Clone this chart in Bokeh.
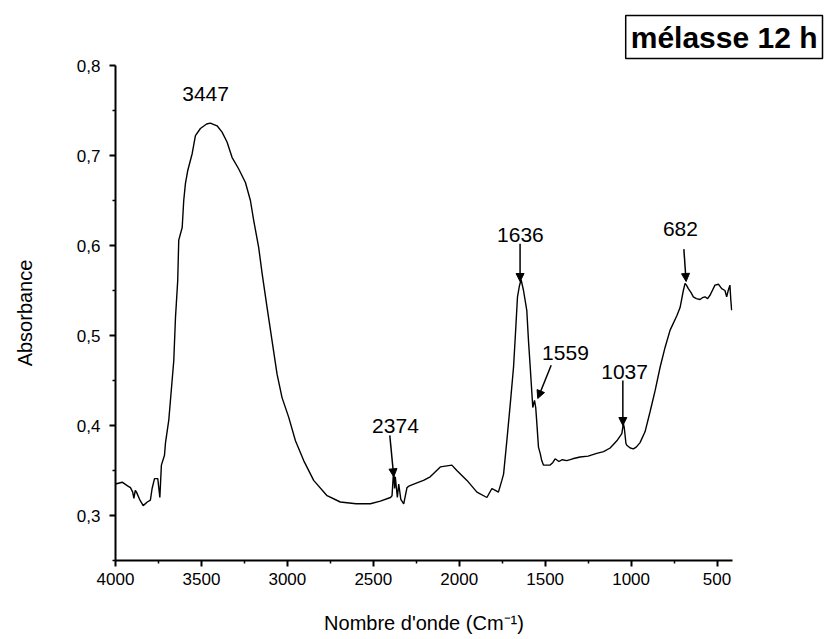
from bokeh.plotting import figure
from bokeh.models import (Range1d, FixedTicker, ColumnDataSource, Title, Arrow,
                          NormalHead)
from bokeh.core.properties import value
from bokeh.embed import file_html
from bokeh.resources import INLINE

# ---- spectrum data (wavenumber cm-1, absorbance) ----
wavenumber = [4000, 3961, 3930, 3913, 3900, 3893, 3885, 3878, 3860, 3839, 3815,
              3797, 3787, 3773, 3754, 3742, 3733, 3715, 3709, 3690, 3675, 3661,
              3651, 3638, 3632, 3612, 3603, 3593, 3580, 3554, 3535, 3506, 3470,
              3448, 3409, 3380, 3351, 3322, 3283, 3244, 3215, 3196, 3167, 3147,
              3118, 3089, 3060, 3031, 2992, 2953, 2905, 2847, 2769, 2692, 2600,
              2517, 2459, 2400, 2391, 2382, 2376, 2372, 2360, 2352, 2340, 2323,
              2304, 2290, 2250, 2208, 2169, 2110, 2043, 2014, 1955, 1897, 1839,
              1810, 1790, 1772, 1752, 1742, 1723, 1703, 1684, 1674, 1661, 1650,
              1640, 1626, 1607, 1597, 1587, 1572, 1562, 1555, 1549, 1539, 1529,
              1520, 1510, 1500, 1471, 1455, 1442, 1420, 1400, 1374, 1340, 1297,
              1250, 1200, 1160, 1122, 1083, 1054, 1045, 1040, 1030, 1025, 1005,
              987, 970, 948, 919, 890, 860, 831, 802, 773, 734, 715, 696, 686,
              678, 667, 652, 638, 620, 599, 585, 570, 555, 540, 512, 492, 473,
              454, 444, 435, 425, 420, 415]
absorbance = [0.335, 0.337, 0.333, 0.331, 0.326, 0.319, 0.328, 0.326, 0.318, 0.311, 0.315,
              0.317, 0.330, 0.341, 0.341, 0.320, 0.356, 0.367, 0.381, 0.406, 0.440, 0.472,
              0.520, 0.561, 0.606, 0.620, 0.650, 0.669, 0.683, 0.702, 0.722, 0.730, 0.735,
              0.736, 0.733, 0.726, 0.715, 0.698, 0.685, 0.670, 0.650, 0.628, 0.598, 0.569,
              0.531, 0.494, 0.457, 0.431, 0.409, 0.383, 0.361, 0.339, 0.322, 0.315, 0.313,
              0.313, 0.316, 0.320, 0.322, 0.350, 0.330, 0.343, 0.320, 0.335, 0.318, 0.313,
              0.331, 0.333, 0.336, 0.339, 0.343, 0.354, 0.356, 0.350, 0.339, 0.326, 0.320,
              0.330, 0.328, 0.326, 0.339, 0.346, 0.383, 0.424, 0.465, 0.498, 0.543, 0.555,
              0.562, 0.550, 0.528, 0.494, 0.465, 0.420, 0.428, 0.420, 0.404, 0.376, 0.369,
              0.361, 0.356, 0.356, 0.356, 0.359, 0.363, 0.360, 0.362, 0.361, 0.363, 0.365,
              0.366, 0.369, 0.371, 0.375, 0.383, 0.391, 0.402, 0.398, 0.380, 0.378, 0.375,
              0.374, 0.376, 0.381, 0.393, 0.415, 0.439, 0.465, 0.487, 0.506, 0.522, 0.531, 0.550, 0.558,
              0.556, 0.552, 0.548, 0.543, 0.541, 0.540, 0.542, 0.543, 0.541, 0.545, 0.556, 0.557, 0.552,
              0.550, 0.543, 0.550, 0.556, 0.540, 0.528]

# ---- peak annotations ----
peak_labels = ["3447", "2374", "1636", "1559", "1037", "682"]

# ---- ticks ----
x_ticks = [4000, 3500, 3000, 2500, 2000, 1500, 1000, 500]
x_tick_labels = ["4000", "3500", "3000", "2500", "2000", "1500", "1000", "500"]
y_ticks = [0.3, 0.4, 0.5, 0.6, 0.7, 0.8]
y_tick_labels = ["0,3", "0,4", "0,5", "0,6", "0,7", "0,8"]

FONT = "Liberation Sans"

p = figure(width=825, height=639, output_backend="svg", toolbar_location=None,
           x_range=Range1d(4000, 410), y_range=Range1d(0.25, 0.8),
           min_border_left=115, min_border_right=93, min_border_top=65,
           min_border_bottom=79)
p.outline_line_color = None
p.xgrid.visible = False
p.ygrid.visible = False
p.background_fill_color = "white"
p.border_fill_color = "white"

p.line(wavenumber, absorbance, line_color="black", line_width=1.4)

for ax in (p.xaxis[0], p.yaxis[0]):
    ax.axis_line_color = "black"
    ax.axis_line_width = 2
    ax.major_tick_line_width = 2
    ax.minor_tick_line_width = 1.5
    ax.major_tick_in = 0
    ax.major_tick_out = 6
    ax.minor_tick_in = 0
    ax.minor_tick_out = 3
    ax.major_label_text_font = FONT
    ax.major_label_text_font_size = "17px"
    ax.major_label_text_color = "black"
    ax.axis_label_text_font = FONT
    ax.axis_label_text_font_size = "20px"
    ax.axis_label_text_font_style = "normal"
    ax.axis_label_text_color = "black"

p.xaxis.ticker = FixedTicker(ticks=x_ticks, minor_ticks=[3750, 3250, 2750, 2250, 1750, 1250, 750])
p.xaxis.major_label_overrides = dict(zip(x_ticks, x_tick_labels))
p.yaxis.ticker = FixedTicker(ticks=y_ticks, minor_ticks=[0.25, 0.35, 0.45, 0.55, 0.65, 0.75])
p.yaxis.major_label_overrides = dict(zip(y_ticks, y_tick_labels))
p.xaxis.axis_label = "Nombre d'onde (Cm\u207b\u00b9)"
p.yaxis.axis_label = "Absorbance"
p.xaxis.major_label_standoff = 6
p.xaxis.axis_label_standoff = 24
p.yaxis.major_label_standoff = 9
p.yaxis.axis_label_standoff = 38

# annotation text placement (data coords)
lab_x = [3476, 2371, 1644, 1382, 1038, 713]
lab_y = [0.768, 0.399, 0.612, 0.481, 0.460, 0.618]
src = ColumnDataSource(dict(x=lab_x, y=lab_y, t=peak_labels))
p.text("x", "y", text="t", source=src, text_align="center", text_baseline="middle",
       text_font=value(FONT), text_font_size="21px", text_color="black")

arrows = [((2404, 0.389), (2381, 0.343)),
          ((1646, 0.602), (1646, 0.560)),
          ((1465, 0.467), (1543, 0.430)),
          ((1048, 0.450), (1048, 0.400)),
          ((693, 0.596), (680, 0.560))]
for (xs, ys), (xe, ye) in arrows:
    p.add_layout(Arrow(x_start=xs, y_start=ys, x_end=xe, y_end=ye,
                       line_color="black", line_width=1.5,
                       end=NormalHead(size=8, fill_color="black", line_color="black")))

title = Title(text="mélasse 12 h", align="right", offset=-90, standoff=14,
              text_font=FONT, text_font_size="30px", text_font_style="bold",
              text_color="black", border_line_color="black", border_line_width=1.5,
              background_fill_color="white", padding=5)
p.add_layout(title, "above")

open("out.html", "w").write(file_html(p, INLINE))
